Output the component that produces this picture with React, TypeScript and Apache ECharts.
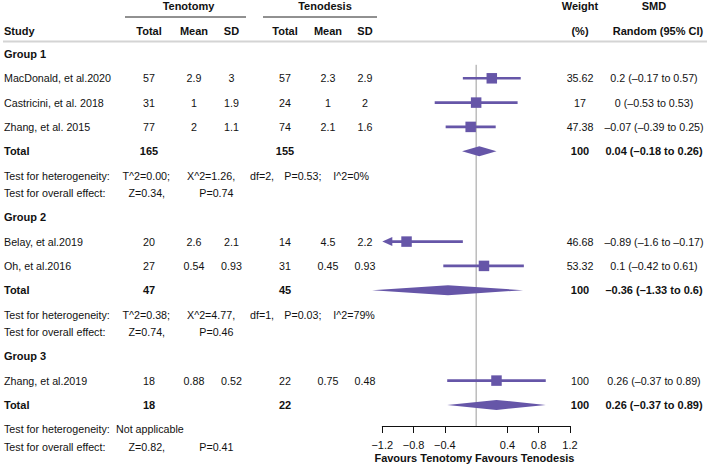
import React, { useEffect, useRef } from "react";
import * as echarts from "echarts";

// ---------------- data ----------------
const groupNames = ["Group 1", "Group 2", "Group 3"];
const studies = [
  "MacDonald, et al.2020",
  "Castricini, et al. 2018",
  "Zhang, et al. 2015",
  "Belay, et al.2019",
  "Oh, et al.2016",
  "Zhang, et al.2019",
];
const studyGroup = [0, 0, 0, 1, 1, 2];
const tenotomyTotal = ["57", "31", "77", "20", "27", "18"];
const tenotomyMean = ["2.9", "1", "2", "2.6", "0.54", "0.88"];
const tenotomySD = ["3", "1.9", "1.1", "2.1", "0.93", "0.52"];
const tenodesisTotal = ["57", "24", "74", "14", "31", "22"];
const tenodesisMean = ["2.3", "1", "2.1", "4.5", "0.45", "0.75"];
const tenodesisSD = ["2.9", "2", "1.6", "2.2", "0.93", "0.48"];
const studyWeight = ["35.62", "17", "47.38", "46.68", "53.32", "100"];
const smd = [0.2, 0, -0.07, -0.89, 0.1, 0.26];
const ciLow = [-0.17, -0.53, -0.39, -1.6, -0.42, -0.37];
const ciHigh = [0.57, 0.53, 0.25, -0.17, 0.61, 0.89];

const groupTenotomyTotal = ["165", "47", "18"];
const groupTenodesisTotal = ["155", "45", "22"];
const groupWeight = ["100", "100", "100"];
const groupSMD = [0.04, -0.36, 0.26];
const groupLow = [-0.18, -1.33, -0.37];
const groupHigh = [0.26, 0.6, 0.89];

const hetTau = ["T^2=0.00;", "T^2=0.38;", ""];
const hetChi = ["X^2=1.26,", "X^2=4.77,", ""];
const hetDf = ["df=2,", "df=1,", ""];
const hetP = ["P=0.53;", "P=0.03;", ""];
const hetI2 = ["I^2=0%", "I^2=79%", ""];
const hetNote = ["", "", "Not applicable"];
const overallZ = ["Z=0.34,", "Z=0.74,", "Z=0.82,"];
const overallP = ["P=0.74", "P=0.46", "P=0.41"];

const xTicks = [-1.2, -0.8, -0.4, 0.4, 0.8, 1.2];

// ---------------- layout / style ----------------
const FONT = "'Liberation Sans', Arial, Helvetica, sans-serif";
const PURPLE = "#6656a8";
const TXT = "#111";
const X_MIN = -1.2;
const X_MAX = 1.2;
const AXIS_Y = 426;

const COL = {
  study: 4,
  t1Total: 149,
  t1Mean: 194,
  t1SD: 231.5,
  t2Total: 285,
  t2Mean: 328,
  t2SD: 365,
  weight: 580,
  ci: 654,
};

type Row = { kind: string; g: number; s?: number; y?: number };

function buildRows(): Row[] {
  const rows: Row[] = [];
  groupNames.forEach((_, g) => {
    rows.push({ kind: "group", g });
    studyGroup.forEach((sg, s) => {
      if (sg === g) rows.push({ kind: "study", g, s });
    });
    rows.push({ kind: "total", g });
    rows.push({ kind: "het", g });
    rows.push({ kind: "overall", g });
  });
  let y = 54;
  rows.forEach((r, i) => {
    if (i > 0) y += r.kind === "overall" ? 17.5 : 24.3;
    r.y = y;
  });
  return rows;
}

const fmt = (v: number) => String(v).replace("-", "\u2013");
const ciText = (m: number, l: number, h: number) => `${fmt(m)} (${fmt(l)} to ${fmt(h)})`;

function txt(
  text: string,
  x: number,
  y: number,
  opts: { bold?: boolean; align?: string; size?: number } = {}
) {
  return {
    type: "text",
    x,
    y,
    silent: true,
    style: {
      text,
      fill: TXT,
      fontFamily: FONT,
      fontSize: opts.size ?? (opts.bold ? 11 : 10.7),
      fontWeight: opts.bold ? "bold" : "normal",
      align: opts.align ?? "center",
      verticalAlign: "middle",
    },
  };
}

function buildOption() {
  const rows = buildRows();
  const g: any[] = [];

  // header
  const H1 = 6;
  const H2 = 30.5;
  g.push(txt("Tenotomy", 188.5, H1, { bold: true }));
  g.push(txt("Tenodesis", 325, H1, { bold: true }));
  g.push(txt("Weight", COL.weight, H1, { bold: true }));
  g.push(txt("SMD", 654, H1, { bold: true }));
  g.push(txt("Study", COL.study, H2, { bold: true, align: "left" }));
  g.push(txt("Total", COL.t1Total, H2, { bold: true }));
  g.push(txt("Mean", COL.t1Mean, H2, { bold: true }));
  g.push(txt("SD", COL.t1SD, H2, { bold: true }));
  g.push(txt("Total", COL.t2Total, H2, { bold: true }));
  g.push(txt("Mean", COL.t2Mean, H2, { bold: true }));
  g.push(txt("SD", COL.t2SD, H2, { bold: true }));
  g.push(txt("(%)", COL.weight, H2, { bold: true }));
  g.push(txt("Random (95% CI)", 658, H2, { bold: true }));
  g.push({ type: "line", silent: true, shape: { x1: 125, y1: 17, x2: 246, y2: 17 }, style: { stroke: "#222", lineWidth: 1 } });
  g.push({ type: "line", silent: true, shape: { x1: 263, y1: 17, x2: 377, y2: 17 }, style: { stroke: "#222", lineWidth: 1 } });
  g.push({ type: "line", silent: true, shape: { x1: 3, y1: 41.5, x2: 707, y2: 41.5 }, style: { stroke: "#d4d4d4", lineWidth: 2 } });

  const studyData: number[][] = [];
  const diamondData: number[][] = [];

  rows.forEach((r) => {
    const y = r.y as number;
    if (r.kind === "group") {
      g.push(txt(groupNames[r.g], COL.study, y, { bold: true, align: "left" }));
    } else if (r.kind === "study") {
      const s = r.s as number;
      g.push(txt(studies[s], COL.study, y, { align: "left" }));
      g.push(txt(tenotomyTotal[s], COL.t1Total, y));
      g.push(txt(tenotomyMean[s], COL.t1Mean, y));
      g.push(txt(tenotomySD[s], COL.t1SD, y));
      g.push(txt(tenodesisTotal[s], COL.t2Total, y));
      g.push(txt(tenodesisMean[s], COL.t2Mean, y));
      g.push(txt(tenodesisSD[s], COL.t2SD, y));
      g.push(txt(studyWeight[s], COL.weight, y));
      g.push(txt(ciText(smd[s], ciLow[s], ciHigh[s]), COL.ci, y));
      studyData.push([smd[s], y, ciLow[s], ciHigh[s]]);
    } else if (r.kind === "total") {
      g.push(txt("Total", COL.study, y, { bold: true, align: "left" }));
      g.push(txt(groupTenotomyTotal[r.g], COL.t1Total, y, { bold: true }));
      g.push(txt(groupTenodesisTotal[r.g], COL.t2Total, y, { bold: true }));
      g.push(txt(groupWeight[r.g], COL.weight, y, { bold: true }));
      g.push(txt(ciText(groupSMD[r.g], groupLow[r.g], groupHigh[r.g]), COL.ci, y, { bold: true }));
      diamondData.push([groupSMD[r.g], y, groupLow[r.g], groupHigh[r.g]]);
    } else if (r.kind === "het") {
      g.push(txt("Test for heterogeneity:", COL.study, y, { align: "left" }));
      if (hetNote[r.g]) {
        g.push(txt(hetNote[r.g], 116, y, { align: "left" }));
      } else {
        g.push(txt(hetTau[r.g], 122.5, y, { align: "left" }));
        g.push(txt(hetChi[r.g], 187, y, { align: "left" }));
        g.push(txt(hetDf[r.g], 250, y, { align: "left" }));
        g.push(txt(hetP[r.g], 284.3, y, { align: "left" }));
        g.push(txt(hetI2[r.g], 333.3, y, { align: "left" }));
      }
    } else if (r.kind === "overall") {
      g.push(txt("Test for overall effect:", COL.study, y, { align: "left" }));
      g.push(txt(overallZ[r.g], 128.5, y, { align: "left" }));
      g.push(txt(overallP[r.g], 199.3, y, { align: "left" }));
    }
  });

  g.push(txt("Favours Tenotomy", 472, 458, { bold: true, align: "right" }));
  g.push(txt("Favours Tenodesis", 475, 458, { bold: true, align: "left" }));

  const firstStudyY = studyData[0][1];

  return {
    animation: false,
    backgroundColor: "#fff",
    textStyle: { fontFamily: FONT },
    grid: { left: 382.3, right: 140, top: 0, height: AXIS_Y, containLabel: false, outerBoundsMode: "none" },
    xAxis: {
      type: "value",
      min: X_MIN,
      max: X_MAX,
      interval: 0.4,
      splitLine: { show: false },
      axisLine: { show: true, onZero: false, lineStyle: { color: "#111", width: 1 } },
      axisTick: { show: true, length: 7, customValues: xTicks, lineStyle: { color: "#111", width: 1 } },
      axisLabel: {
        show: true,
        customValues: xTicks,
        margin: 13,
        color: TXT,
        fontSize: 11,
        fontFamily: FONT,
        formatter: (v: number) => String(v).replace("-", "\u2212"),
      },
    },
    yAxis: { type: "value", min: 0, max: AXIS_Y, inverse: true, show: false },
    series: [
      {
        type: "custom",
        name: "ref",
        clip: false,
        silent: true,
        data: [[0, firstStudyY - 13.5, AXIS_Y]],
        renderItem: (_p: any, api: any) => {
          const a = api.coord([api.value(0), api.value(1)]);
          const b = api.coord([api.value(0), api.value(2)]);
          return {
            type: "line",
            shape: { x1: a[0], y1: a[1], x2: b[0], y2: b[1] },
            style: { stroke: "#9a9a9a", lineWidth: 1 },
          };
        },
      },
      {
        type: "custom",
        name: "studies",
        clip: false,
        silent: true,
        data: studyData,
        renderItem: (_p: any, api: any) => {
          const m = api.value(0);
          const y = api.value(1);
          const lo = api.value(2);
          const hi = api.value(3);
          const c = api.coord([m, y]);
          const pl = api.coord([Math.max(lo, X_MIN), y]);
          const ph = api.coord([Math.min(hi, X_MAX), y]);
          const children: any[] = [];
          if (lo < X_MIN) {
            children.push({
              type: "line",
              shape: { x1: pl[0] + 8, y1: c[1], x2: ph[0], y2: c[1] },
              style: { stroke: PURPLE, lineWidth: 2.6 },
            });
            children.push({
              type: "polygon",
              shape: { points: [[pl[0], c[1]], [pl[0] + 10, c[1] - 4.5], [pl[0] + 10, c[1] + 4.5]] },
              style: { fill: PURPLE },
            });
          } else {
            children.push({
              type: "line",
              shape: { x1: pl[0], y1: c[1], x2: ph[0], y2: c[1] },
              style: { stroke: PURPLE, lineWidth: 2.6 },
            });
          }
          const sz = 10.5;
          children.push({
            type: "rect",
            shape: { x: c[0] - sz / 2, y: c[1] - sz / 2, width: sz, height: sz },
            style: { fill: PURPLE },
          });
          return { type: "group", children };
        },
      },
      {
        type: "custom",
        name: "pooled",
        clip: false,
        silent: true,
        data: diamondData,
        renderItem: (_p: any, api: any) => {
          const y = api.value(1);
          const c = api.coord([api.value(0), y]);
          const l = api.coord([api.value(2), y]);
          const h = api.coord([api.value(3), y]);
          return {
            type: "polygon",
            shape: { points: [[l[0], c[1]], [c[0], c[1] - 5], [h[0], c[1]], [c[0], c[1] + 5]] },
            style: { fill: PURPLE },
          };
        },
      },
    ],
    graphic: g,
  };
}

export default function App() {
  const ref = useRef<HTMLDivElement>(null);
  useEffect(() => {
    if (!ref.current) return;
    const chart = echarts.init(ref.current, null, { renderer: "svg" });
    chart.setOption(buildOption() as any);
    return () => chart.dispose();
  }, []);
  return (
    <div
      ref={ref}
      style={{ position: "fixed", left: 0, top: 0, width: 710, height: 466, background: "#fff" }}
    />
  );
}
